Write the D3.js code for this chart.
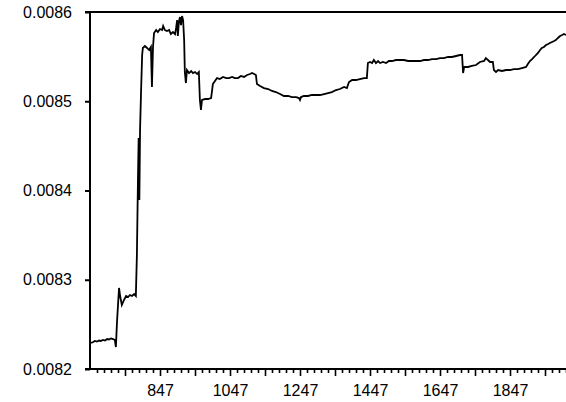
<!DOCTYPE html>
<html>
<head>
<meta charset="utf-8">
<script src="https://cdn.jsdelivr.net/npm/d3@7"></script>
<style>
  html, body { margin: 0; padding: 0; background: #fff; }
  svg { display: block; }
  text { font-family: "Liberation Sans", Arial, sans-serif; fill: #000; }
</style>
</head>
<body>
<svg id="chart" width="566" height="402"></svg>
<script>
// Trace of the sampled parameter by iteration
const iterations = [
  650, 656, 661, 667, 673, 678, 684, 690, 696, 701, 707, 713, 718, 721, 724, 727, 730, 733, 738, 744,
  750, 756, 761, 767, 773, 778, 781, 784, 786, 788, 790, 793, 796, 798, 804, 810, 816, 821, 824, 827,
  830, 836, 841, 847, 853, 856, 861, 867, 873, 878, 884, 890, 893, 896, 898, 901, 904, 907, 910, 913,
  916, 918, 921, 924, 930, 936, 941, 947, 953, 958, 961, 964, 967, 976, 984, 993, 996, 998, 1004, 1010,
  1018, 1027, 1036, 1044, 1053, 1061, 1070, 1078, 1087, 1096, 1104, 1110, 1116, 1121, 1124, 1133, 1144, 1156, 1167, 1178,
  1190, 1201, 1213, 1224, 1236, 1244, 1247, 1250, 1258, 1270, 1281, 1293, 1304, 1316, 1327, 1338, 1350, 1361, 1373, 1381,
  1387, 1396, 1407, 1418, 1430, 1438, 1441, 1447, 1453, 1458, 1464, 1470, 1476, 1484, 1493, 1501, 1510, 1521, 1533, 1544,
  1556, 1567, 1578, 1590, 1601, 1613, 1624, 1636, 1647, 1658, 1670, 1681, 1693, 1704, 1710, 1713, 1716, 1727, 1738, 1750,
  1761, 1773, 1778, 1784, 1790, 1798, 1801, 1807, 1813, 1824, 1836, 1847, 1858, 1870, 1881, 1893, 1898, 1904, 1910, 1916,
  1921, 1927, 1933, 1938, 1944, 1950, 1956, 1961, 1967, 1973, 1978, 1984, 1990, 1996, 2001, 2007
];
const values = [
  0.0082291, 0.0082303, 0.0082314, 0.0082308, 0.0082319, 0.0082314, 0.0082325, 0.0082319, 0.0082336, 0.0082331,
  0.0082342, 0.0082336, 0.0082325, 0.0082246, 0.0082515, 0.0082717, 0.0082908, 0.0082818, 0.0082717, 0.0082773,
  0.0082818, 0.0082807, 0.0082829, 0.0082818, 0.0082840, 0.0082818, 0.0083277, 0.0084118, 0.0084588, 0.0083894,
  0.0084678, 0.0085126, 0.0085518, 0.0085597, 0.0085619, 0.0085597, 0.0085574, 0.0085608, 0.0085160, 0.0085608,
  0.0085765, 0.0085798, 0.0085776, 0.0085809, 0.0085798, 0.0085843, 0.0085798, 0.0085787, 0.0085798, 0.0085753,
  0.0085776, 0.0085753, 0.0085821, 0.0085910, 0.0085731, 0.0085888, 0.0085944, 0.0085854, 0.0085955, 0.0085910,
  0.0085686, 0.0085328, 0.0085204, 0.0085350, 0.0085316, 0.0085339, 0.0085316, 0.0085328, 0.0085305, 0.0085328,
  0.0085014, 0.0084902, 0.0085014, 0.0085025, 0.0085025, 0.0085036, 0.0085126, 0.0085193, 0.0085227, 0.0085260,
  0.0085249, 0.0085272, 0.0085260, 0.0085260, 0.0085272, 0.0085260, 0.0085260, 0.0085283, 0.0085272, 0.0085294,
  0.0085305, 0.0085316, 0.0085305, 0.0085294, 0.0085193, 0.0085171, 0.0085148, 0.0085137, 0.0085115, 0.0085103,
  0.0085081, 0.0085059, 0.0085059, 0.0085047, 0.0085047, 0.0085036, 0.0085014, 0.0085047, 0.0085059, 0.0085059,
  0.0085070, 0.0085070, 0.0085070, 0.0085081, 0.0085092, 0.0085103, 0.0085126, 0.0085137, 0.0085160, 0.0085148,
  0.0085215, 0.0085238, 0.0085238, 0.0085249, 0.0085260, 0.0085260, 0.0085428, 0.0085440, 0.0085428, 0.0085462,
  0.0085428, 0.0085451, 0.0085428, 0.0085440, 0.0085428, 0.0085451, 0.0085451, 0.0085462, 0.0085462, 0.0085462,
  0.0085451, 0.0085451, 0.0085451, 0.0085451, 0.0085462, 0.0085462, 0.0085473, 0.0085473, 0.0085484, 0.0085484,
  0.0085496, 0.0085496, 0.0085507, 0.0085518, 0.0085518, 0.0085316, 0.0085384, 0.0085384, 0.0085395, 0.0085406,
  0.0085440, 0.0085451, 0.0085484, 0.0085462, 0.0085440, 0.0085440, 0.0085350, 0.0085328, 0.0085350, 0.0085339,
  0.0085350, 0.0085350, 0.0085361, 0.0085361, 0.0085372, 0.0085384, 0.0085417, 0.0085451, 0.0085473, 0.0085496,
  0.0085518, 0.0085541, 0.0085574, 0.0085597, 0.0085608, 0.0085630, 0.0085641, 0.0085653, 0.0085664, 0.0085675,
  0.0085686, 0.0085709, 0.0085731, 0.0085742, 0.0085753, 0.0085742
];

// Axis settings
const xDomain = [647, 2007];
const yDomain = [0.0082, 0.0086];
const yTickValues = [0.0082, 0.0083, 0.0084, 0.0085, 0.0086];
const xLabelTicks = [847, 1047, 1247, 1447, 1647, 1847];
const xMajorStep = 100;
const xMinorStep = 20;

const data = iterations.map((it, i) => ({ it, v: values[i] }));

const plotLeft = 90, plotRight = 566, plotTop = 12, plotBottom = 369;
const svg = d3.select("#chart");

const x = d3.scaleLinear().domain(xDomain).range([plotLeft, plotRight]);
const y = d3.scaleLinear().domain(yDomain).range([plotBottom, plotTop]);

// tick positions generated from the axis step sizes
const minorTicks = d3.range(xDomain[0], xDomain[1] + 1, xMinorStep).filter(t => (t - xDomain[0]) % xMajorStep !== 0);
const majorTicks = d3.range(xDomain[0] + xMajorStep, xDomain[1] + 1, xMajorStep);

// minor x ticks
svg.append("g")
  .attr("transform", `translate(0,${plotBottom})`)
  .call(d3.axisBottom(x).tickValues(minorTicks).tickSize(4).tickFormat(""))
  .call(g => g.select(".domain").remove())
  .call(g => g.selectAll("line").attr("stroke", "#000").attr("stroke-width", 1.6));

// major x ticks with labels on every other one
svg.append("g")
  .attr("transform", `translate(0,${plotBottom})`)
  .call(d3.axisBottom(x).tickValues(majorTicks).tickSize(7).tickPadding(9)
    .tickFormat(d => xLabelTicks.includes(d) ? d : ""))
  .call(g => g.select(".domain").remove())
  .call(g => g.selectAll("line").attr("stroke", "#000").attr("stroke-width", 1.6))
  .call(g => g.selectAll("text").attr("font-size", 16).attr("font-family", "Liberation Sans, Arial, sans-serif"));

// y axis
svg.append("g")
  .attr("transform", `translate(${plotLeft},0)`)
  .call(d3.axisLeft(y).tickValues(yTickValues).tickSize(5).tickPadding(13).tickFormat(d3.format(".4f")))
  .call(g => g.select(".domain").remove())
  .call(g => g.selectAll("line").attr("stroke", "#000").attr("stroke-width", 2))
  .call(g => g.selectAll("text").attr("font-size", 16).attr("font-family", "Liberation Sans, Arial, sans-serif"));

// frame: left axis line, bottom axis line, top line
svg.append("line").attr("x1", plotLeft).attr("x2", plotLeft).attr("y1", plotTop - 1).attr("y2", plotBottom + 1)
  .attr("stroke", "#000").attr("stroke-width", 2);
svg.append("line").attr("x1", plotLeft - 5).attr("x2", plotRight).attr("y1", plotBottom).attr("y2", plotBottom)
  .attr("stroke", "#000").attr("stroke-width", 2);
svg.append("line").attr("x1", plotLeft - 5).attr("x2", plotRight).attr("y1", plotTop).attr("y2", plotTop)
  .attr("stroke", "#000").attr("stroke-width", 2);

// trace line
const line = d3.line().x(d => x(d.it)).y(d => y(d.v));
svg.append("path")
  .datum(data)
  .attr("fill", "none")
  .attr("stroke", "#000")
  .attr("stroke-width", 1.8)
  .attr("stroke-linejoin", "miter")
  .attr("d", line);
</script>
</body>
</html>
